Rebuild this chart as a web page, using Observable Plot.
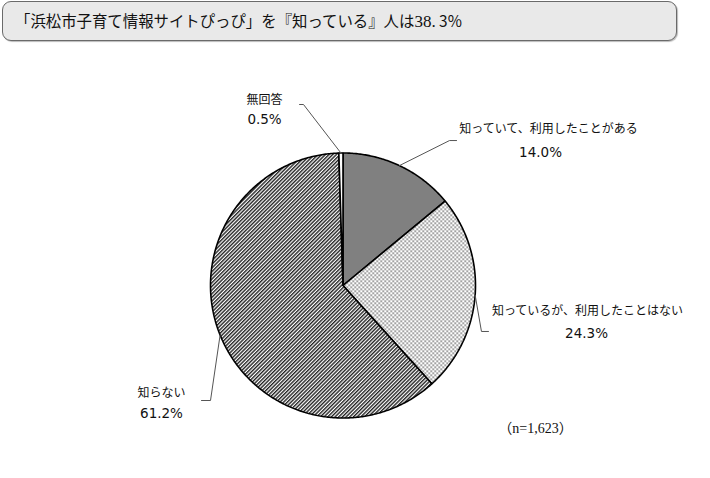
<!DOCTYPE html>
<html><head><meta charset="utf-8">
<script src="https://cdn.jsdelivr.net/npm/d3@7"></script>
<script src="https://cdn.jsdelivr.net/npm/@observablehq/plot@0.6"></script>
<style>
html,body{margin:0;padding:0;background:#fff;}
body{width:710px;height:478px;overflow:hidden;position:relative;font-family:"Noto Sans CJK JP","Noto Sans",sans-serif;}
#title{position:absolute;left:2px;top:1px;width:675px;height:40px;box-sizing:border-box;border:1.5px solid #6a6a6a;border-radius:9px;background:#e9e9e9;font-size:15.4px;line-height:37px;padding-left:12px;color:#111;box-shadow:1px 1px 1px #bbb;white-space:nowrap;}
#title .num{font-family:"Liberation Serif","DejaVu Serif",serif;font-size:17px;}
#chart{position:absolute;left:0;top:44px;}
</style></head><body>
<div id="title">「浜松市子育て情報サイトぴっぴ」を『知っている』人は<span class="num">38.</span> 3%</div>
<div id="chart"></div>
<script>
// ---- data ----
const categories = ["知っていて、利用したことがある", "知っているが、利用したことはない", "知らない", "無回答"];
const shares = [14.0, 24.3, 61.2, 0.5];
const valueLabels = ["14.0%", "24.3%", "61.2%", "0.5%"];
const sampleNote = "（n=1,623）";

// ---- styles / layout ----
const sliceFills = ["#808080", "url(#dots)", "url(#hatch)", "#ffffff"];
// label centres and leader elbows, in radius units around the pie centre
const namePos = [[1.551, 1.177], [1.845, -0.196], [-1.370, -0.815], [-0.592, 1.400]];
const valuePos = [[1.491, 1.004], [1.838, -0.362], [-1.370, -0.966], [-0.592, 1.249]];
const leaderElbow = [[0.804, 1.094], [1.045, -0.347], [-1.0, -0.868], [-0.298, 1.366]];
const leaderEnd = [[0.857, 1.094], [1.098, -0.347], [-1.068, -0.868], [-0.328, 1.366]];
const notePos = [1.453, -1.079];

const arcs = d3.pie().sort(null).value(d => d)(shares);
const pt = a => ({x: Math.sin(a), y: Math.cos(a)});

const sliceMarks = arcs.map((a, i) => {
  const pts = [{x: 0, y: 0}];
  const n = Math.max(2, Math.ceil((a.endAngle - a.startAngle) / 0.01));
  for (let k = 0; k <= n; k++) pts.push(pt(a.startAngle + (a.endAngle - a.startAngle) * k / n));
  pts.push({x: 0, y: 0});
  return Plot.line(pts, {x: "x", y: "y", fill: sliceFills[i], stroke: "#000", strokeWidth: 1.6, strokeLinejoin: "miter"});
});

const leaderMarks = arcs.map((a, i) => {
  const mid = pt((a.startAngle + a.endAngle) / 2);
  const pts = [mid, {x: leaderElbow[i][0], y: leaderElbow[i][1]}, {x: leaderEnd[i][0], y: leaderEnd[i][1]}];
  return Plot.line(pts, {x: "x", y: "y", stroke: "#555", strokeWidth: 1});
});

const names = categories.map((c, i) => ({text: c, x: namePos[i][0], y: namePos[i][1]}));
const values = valueLabels.map((v, i) => ({text: v, x: valuePos[i][0], y: valuePos[i][1]}));

const chart = Plot.plot({
  width: 710,
  height: 434,
  margin: 0,
  x: {domain: [-1, 1], range: [210, 475], axis: null},
  y: {domain: [-1, 1], range: [373.5, 108.5], axis: null},
  style: {fontFamily: "'Noto Sans CJK JP', sans-serif", fontSize: "12px", color: "#000", background: "transparent"},
  marks: [
    ...sliceMarks,
    ...leaderMarks,
    Plot.text(names, {x: "x", y: "y", text: "text", fill: "#111", fontSize: 12, fontFamily: "'Noto Sans CJK JP', sans-serif"}),
    Plot.text(values, {x: "x", y: "y", text: "text", fill: "#111", fontSize: 13.5, fontFamily: "'DejaVu Sans', sans-serif"}),
    Plot.text([sampleNote], {x: () => notePos[0], y: () => notePos[1], text: d => d, fontFamily: "'Liberation Serif', 'Noto Sans CJK JP', serif", fontSize: 14, fill: "#111"})
  ]
});

// patterns
const svg = d3.select(chart);
const defs = svg.insert("defs", ":first-child");
const hatch = defs.append("pattern").attr("id", "hatch").attr("patternUnits", "userSpaceOnUse")
  .attr("width", 2.6).attr("height", 2.6).attr("patternTransform", "rotate(45)");
hatch.append("rect").attr("width", 2.6).attr("height", 2.6).attr("fill", "#fff");
hatch.append("rect").attr("x", 0).attr("y", 0).attr("width", 1.4).attr("height", 2.6).attr("fill", "#222");
const dots = defs.append("pattern").attr("id", "dots").attr("patternUnits", "userSpaceOnUse")
  .attr("width", 4).attr("height", 4);
dots.append("rect").attr("width", 4).attr("height", 4).attr("fill", "#fff");
dots.append("rect").attr("x", 0).attr("y", 0).attr("width", 1.4).attr("height", 1.4).attr("fill", "#444");
dots.append("rect").attr("x", 2).attr("y", 2).attr("width", 1.4).attr("height", 1.4).attr("fill", "#444");

document.getElementById("chart").appendChild(chart);
</script>
</body></html>
